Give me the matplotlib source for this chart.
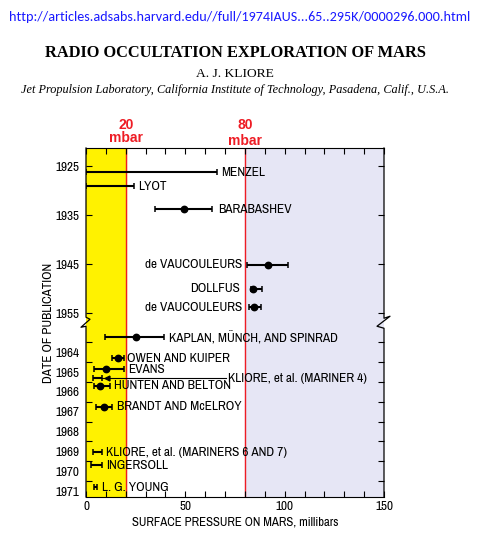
import numpy as np
import matplotlib
matplotlib.use("Agg")
import matplotlib.pyplot as plt
import matplotlib.transforms as mtransforms

# values (pressure in mbar, position in "year" units)
names = ["MENZEL", "LYOT", "BARABASHEV", "de VAUCOULEURS", "DOLLFUS",
         "de VAUCOULEURS", "KAPLAN, MÜNCH, AND SPINRAD", "OWEN AND KUIPER",
         "EVANS", "KLIORE, et al. (MARINER 4)", "HUNTEN AND BELTON",
         "BRANDT AND McELROY", "KLIORE, et al. (MARINERS 6 AND 7)",
         "INGERSOLL", "L. G. YOUNG"]
year_pos = [1926.2, 1929.1, 1933.8, 1945.1, 1950.0, 1953.8, 1963.25, 1964.3,
            1964.85, 1965.3, 1965.7, 1966.75, 1969.05, 1969.7, 1970.8]
p_low = [0, 0, 34.6, 81.0, 82.9, 82.2, 9.7, 13.3, 4.2, 3.4, 4.2, 5.0, 3.3, 2.6, 4.2]
p_high = [66.0, 24.3, 63.6, 101.5, 88.4, 87.9, 39.4, 18.9, 18.9, 8.0, 12.1, 13.0, 7.9, 8.1, 5.4]
p_best = [np.nan, np.nan, 49.2, 91.4, 84.2, 84.4, 25.0, 15.9, 10.2, np.nan,
          7.0, 9.0, np.nan, np.nan, np.nan]
label_x = [67.9, 26.3, 66.3, 78.7, 77.5, 78.7, 41.8, 20.8, 21.3, 71.6, 14.1,
           15.4, 9.9, 9.9, 7.9]
label_right = [False, False, False, True, True, True, False, False, False,
               False, False, False, False, False, False]

upper_years = [1925, 1935, 1945, 1955]
lower_years = [1964, 1965, 1966, 1967, 1968, 1969, 1970, 1971]

# narrow grotesque like the original typeface
plt.rcParams['font.family'] = ['Archivo Narrow', 'DejaVu Sans']

# broken y scale: two linear pieces
knots_y = [1921.3, 1956.8, 1962.5, 1971.3]
knots_s = [0.0, 174.0, 174.5, 349.0]


def fwd(y):
    return np.interp(y, knots_y, knots_s)


def inv(s):
    return np.interp(s, knots_s, knots_y)


fig = plt.figure(figsize=(4.8, 5.36), dpi=100)
ax = fig.add_axes([86 / 480, 1 - 497 / 536, 298 / 480, 349 / 536])
ax.set_yscale('function', functions=(fwd, inv))
ax.set_xlim(0, 150)
ax.set_ylim(1971.3, 1921.3)

ax.axvspan(0, 20, color='#fff200', zorder=0)
ax.axvspan(80, 150, color='#e6e6f5', zorder=0)
ax.axvline(20, color='#ee1c24', lw=1.0, zorder=1)
ax.axvline(80, color='#ee1c24', lw=1.0, zorder=1)

for i in range(len(names)):
    lo, hi = p_low[i], p_high[i]
    yy = year_pos[i]
    ax.errorbar((lo + hi) / 2, yy, xerr=(hi - lo) / 2, fmt='none', ecolor='black',
                elinewidth=1.5, capsize=2.3, capthick=1.1, zorder=3)
    if not np.isnan(p_best[i]):
        ax.plot(p_best[i], yy, 'o', color='black', ms=4.6, zorder=4)
    ha = 'right' if label_right[i] else 'left'
    ax.text(label_x[i], yy, names[i], ha=ha, va='center', fontsize=9.6, zorder=5)

# leader line for Mariner 4
ax.plot([p_high[9], label_x[9] - 1], [year_pos[9], year_pos[9]], color='black',
        lw=0.8, zorder=3)
ax.plot(10.4, year_pos[9], '<', color='black', ms=3.5, zorder=4)

# ticks
ax.set_xticks([0, 50, 100, 150])
ax.set_xticks(np.arange(0, 151, 10), minor=True)
major_y = upper_years + [y - 0.5 for y in lower_years]
ax.set_yticks(major_y)
ax.set_yticklabels([str(y) for y in upper_years] + [''] * len(lower_years))
ax.set_yticks(lower_years, minor=True)
ax.set_yticklabels([str(y) for y in lower_years], minor=True)
ax.tick_params(which='both', direction='in', top=True, right=True,
               labelsize=9.5, width=0.8, pad=5)
ax.tick_params(which='major', length=4)
ax.tick_params(axis='x', which='minor', length=4)
ax.tick_params(axis='y', which='minor', length=0)
ax.tick_params(axis='x', pad=3)

ax.set_xlabel('SURFACE PRESSURE ON MARS, millibars', fontsize=9.2, labelpad=3)
ax.set_ylabel('DATE OF PUBLICATION', fontsize=9.4, labelpad=1)

# spines with break zigzags
ax.spines['left'].set_visible(False)
ax.spines['right'].set_visible(False)
fig.canvas.draw()
yb_disp = ax.transData.transform((0, 1959.65))[1]
x0_disp = ax.transAxes.transform((0, 0))[0]
x1_disp = ax.transAxes.transform((1, 0))[0]
ybot = ax.transAxes.transform((0, 0))[1]
ytop = ax.transAxes.transform((0, 1))[1]
left_pts = [(0, ytop - yb_disp), (0, 5), (4, 3), (-5, -5), (0, -4), (0, ybot - yb_disp)]
right_pts = [(0, ytop - yb_disp), (0, 4), (6, 6), (-7, -4), (0, -6), (0, ybot - yb_disp)]
inv_fig = fig.transFigure.inverted()
for xd, pts in ((x0_disp, left_pts), (x1_disp, right_pts)):
    disp = np.array([(xd + dx, yb_disp + dy) for dx, dy in pts])
    figc = inv_fig.transform(disp)
    fig.add_artist(plt.Line2D(figc[:, 0], figc[:, 1], color='black', lw=0.9,
                              transform=fig.transFigure))

# red markers above the shaded limits
blend = mtransforms.blended_transform_factory(ax.transData, fig.transFigure)
for xv, y1, y2 in ((20, 125, 138), (80, 125, 141)):
    ax.text(xv, 1 - y1 / 536, str(xv), transform=blend, ha='center', va='center',
            color='#ee1c24', fontsize=10, fontweight='bold', family='Liberation Sans')
    ax.text(xv, 1 - y2 / 536, 'mbar', transform=blend, ha='center', va='center',
            color='#ee1c24', fontsize=10, fontweight='bold', family='Liberation Sans')

# header
fig.text(0.5, 1 - 17 / 536, 'http://articles.adsabs.harvard.edu//full/1974IAUS...65..295K/0000296.000.html',
         ha='center', va='center', color='#1a1aff', fontsize=10.15,
         family=['Carlito', 'Noto Sans'])
fig.text(0.491, 1 - 53 / 536, 'RADIO OCCULTATION EXPLORATION OF MARS', ha='center',
         va='center', fontsize=11.8, fontweight='bold', family='Liberation Serif')
fig.text(0.49, 1 - 74 / 536, 'A. J. KLIORE', ha='center', va='center', fontsize=9.7,
         family='Liberation Serif')
fig.text(0.489, 1 - 90 / 536,
         'Jet Propulsion Laboratory, California Institute of Technology, Pasadena, Calif., U.S.A.',
         ha='center', va='center', fontsize=8.8, style='italic', family='Liberation Serif')

fig.savefig('out.png', dpi=100)
